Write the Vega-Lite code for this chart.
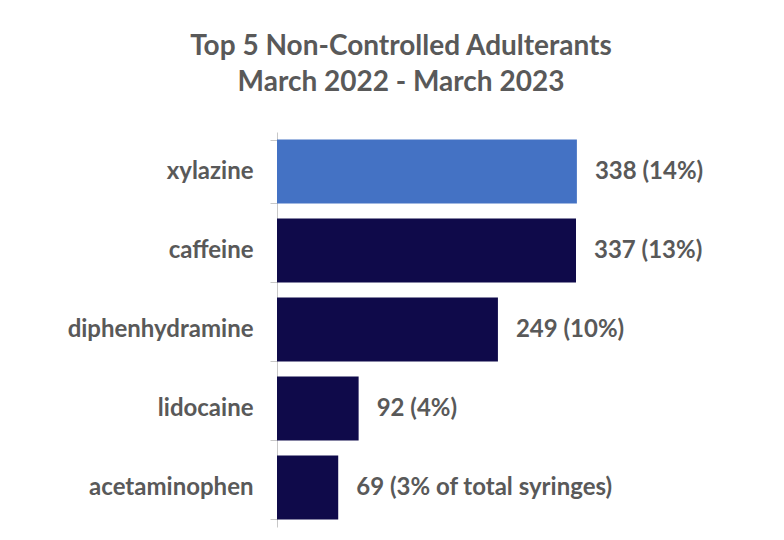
{
  "$schema": "https://vega.github.io/schema/vega-lite/v6.json",
  "autosize": {"type": "none"},
  "width": 480,
  "height": 395,
  "padding": {"top": 132, "left": 277, "right": 27, "bottom": 13},
  "background": "#ffffff",
  "title": {
    "text": ["Top 5 Non-Controlled Adulterants", "March 2022 - March 2023"],
    "font": "Lato",
    "fontSize": 28,
    "fontWeight": "bold",
    "color": "#595959",
    "lineHeight": 36,
    "anchor": "middle",
    "frame": "group",
    "dx": -116,
    "offset": 23
  },
  "data": {
    "values": [
      {"name": "xylazine", "value": 338, "label": "338 (14%)"},
      {"name": "caffeine", "value": 337, "label": "337 (13%)"},
      {"name": "diphenhydramine", "value": 249, "label": "249 (10%)"},
      {"name": "lidocaine", "value": 92, "label": "92 (4%)"},
      {"name": "acetaminophen", "value": 69, "label": "69 (3% of total syringes)"}
    ]
  },
  "encoding": {
    "y": {
      "field": "name",
      "type": "nominal",
      "sort": {"field": "value", "order": "descending"},
      "scale": {"paddingInner": 0.19, "paddingOuter": 0.095},
      "axis": {
        "title": null,
        "labelFont": "Lato",
        "labelFontSize": 24,
        "labelFontWeight": "bold",
        "labelColor": "#595959",
        "labelPadding": 17,
        "labelLimit": 300,
        "tickSize": 7,
        "tickBand": "extent",
        "tickColor": "#c8c8c8",
        "domainColor": "#c8c8c8",
        "grid": false
      }
    },
    "x": {
      "field": "value",
      "type": "quantitative",
      "scale": {"domain": [0, 541], "nice": false},
      "axis": null
    }
  },
  "layer": [
    {
      "mark": {"type": "bar"},
      "encoding": {
        "color": {
          "field": "name",
          "type": "nominal",
          "scale": {
            "domain": ["xylazine", "caffeine", "diphenhydramine", "lidocaine", "acetaminophen"],
            "range": ["#4472C4", "#0F0A4A", "#0F0A4A", "#0F0A4A", "#0F0A4A"]
          },
          "legend": null
        }
      }
    },
    {
      "mark": {
        "type": "text",
        "align": "left",
        "baseline": "middle",
        "dx": 18,
        "font": "Lato",
        "fontSize": 24,
        "fontWeight": "bold",
        "color": "#595959"
      },
      "encoding": {
        "text": {"field": "label"}
      }
    }
  ],
  "config": {"view": {"stroke": null}}
}
